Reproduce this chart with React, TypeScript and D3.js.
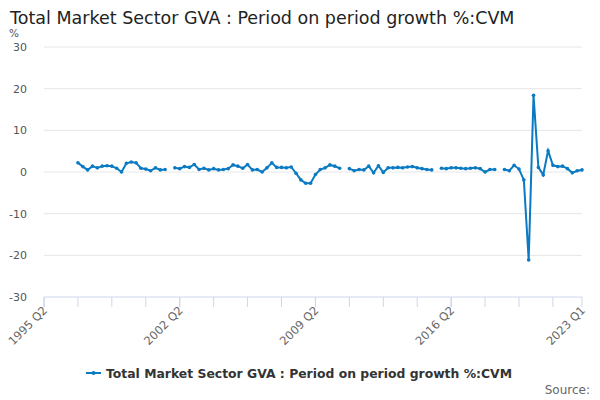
import * as d3 from "d3";
import { useEffect, useRef } from "react";

// quarter labels from 1995 Q2 to 2023 Q1
const quarters: string[] = [];
for (let y = 1995, q = 2; y < 2023 || (y === 2023 && q <= 1); ) {
  quarters.push(`${y} Q${q}`);
  q++;
  if (q > 4) { q = 1; y++; }
}

// growth values, starting 1997 Q1 (index 7); null = missing
const startIndex = 7;
const growth: (number | null)[] = [
  2.2, 1.3, 0.5, 1.4, 1.0, 1.4, 1.5, 1.4, 0.9, 0.0,
  2.1, 2.4, 2.2, 0.9, 0.7, 0.3, 1.0, 0.5, 0.6, null,
  1.0, 0.8, 1.3, 1.1, 1.8, 0.6, 0.9, 0.5, 0.8, 0.5,
  0.6, 0.8, 1.7, 1.4, 0.9, 1.8, 0.5, 0.6, 0.0, 1.0,
  2.2, 1.1, 1.1, 1.0, 1.2, -0.3, -1.9, -2.7, -2.7, -0.6,
  0.6, 1.0, 1.7, 1.4, 0.9, null, 0.8, 0.3, 0.6, 0.5,
  1.4, -0.2, 1.5, -0.1, 1.0, 1.0, 1.1, 1.0, 1.2, 1.3,
  1.0, 0.8, 0.6, 0.5, null, 0.9, 0.8, 1.0, 1.0, 0.9,
  0.8, 0.9, 1.0, 0.8, 0.0, 0.6, 0.6, null, 0.6, 0.3,
  1.6, 0.7, -1.9, -21.1, 18.4, 1.1, -0.7, 5.1, 1.6, 1.3,
  1.4, 0.8, -0.2, 0.3, 0.5,
];
const yTicks = [-30, -20, -10, 0, 10, 20, 30];
const title = "Total Market Sector GVA : Period on period growth %:CVM";

export default function App() {
  const ref = useRef<SVGSVGElement | null>(null);

  useEffect(() => {
    if (!ref.current) return;
    const svg = d3.select(ref.current);
    svg.selectAll("*").remove();

    const left = 44, right = 582, top = 47, bottom = 297;
    const x = d3.scaleLinear().domain([0, quarters.length - 1]).range([left, right]);
    const y = d3.scaleLinear().domain([-30, 30]).range([bottom, top]);
    const font = "DejaVu Sans, sans-serif";

    svg.append("text").attr("x", 10).attr("y", 24).attr("font-family", font)
      .attr("font-size", 17.5).attr("fill", "#222").text(title);

    svg.append("text").attr("x", 9).attr("y", 37).attr("font-family", font)
      .attr("font-size", 10.5).attr("fill", "#555").text("%");

    yTicks.forEach(t => {
      if (t !== -30) {
        svg.append("line").attr("x1", left).attr("x2", right)
          .attr("y1", y(t)).attr("y2", y(t)).attr("stroke", "#e6e6e6");
      }
      svg.append("text").attr("x", 27).attr("y", y(t) + 4).attr("text-anchor", "end")
        .attr("font-family", font).attr("font-size", 11).attr("fill", "#555").text(t);
    });

    // x axis
    svg.append("line").attr("x1", left).attr("x2", right)
      .attr("y1", bottom).attr("y2", bottom).attr("stroke", "#ccd6eb");
    for (let i = 0; i < quarters.length; i += 7) {
      svg.append("line").attr("x1", x(i)).attr("x2", x(i))
        .attr("y1", bottom).attr("y2", bottom + 10).attr("stroke", "#ccd6eb");
    }
    const labelIdx = [0, 28, 56, 84, quarters.length - 1];
    labelIdx.forEach(i => {
      svg.append("line").attr("x1", x(i)).attr("x2", x(i))
        .attr("y1", bottom).attr("y2", bottom + 10).attr("stroke", "#ccd6eb");
      svg.append("text")
        .attr("transform", `translate(${x(i) + 4},${bottom + 14}) rotate(-45)`)
        .attr("text-anchor", "end").attr("font-family", font).attr("font-size", 11.5)
        .attr("fill", "#666").text(quarters[i]);
    });

    const pts = growth.map((v, k) => ({ i: k + startIndex, v }));
    const line = d3.line<{ i: number; v: number | null }>()
      .defined(d => d.v !== null)
      .x(d => x(d.i)).y(d => y(d.v as number));
    svg.append("path").datum(pts).attr("d", line).attr("fill", "none")
      .attr("stroke", "#0a7ac2").attr("stroke-width", 2);
    svg.selectAll("circle.pt").data(pts.filter(d => d.v !== null)).enter()
      .append("circle").attr("cx", d => x(d.i)).attr("cy", d => y(d.v as number))
      .attr("r", 1.8).attr("fill", "#0a7ac2");

    // legend
    svg.append("line").attr("x1", 86).attr("x2", 101).attr("y1", 373).attr("y2", 373)
      .attr("stroke", "#0a7ac2").attr("stroke-width", 2);
    svg.append("circle").attr("cx", 93.5).attr("cy", 373).attr("r", 2).attr("fill", "#0a7ac2");
    svg.append("text").attr("x", 106).attr("y", 377.5).attr("font-family", font)
      .attr("font-size", 12.4).attr("font-weight", "bold").attr("fill", "#333").text(title);

    svg.append("text").attr("x", 590).attr("y", 394).attr("text-anchor", "end")
      .attr("font-family", font).attr("font-size", 12).attr("fill", "#666").text("Source:");
  }, []);

  return <svg ref={ref} width={600} height={400} style={{ position: "absolute", left: 0, top: 0 }} />;
}
